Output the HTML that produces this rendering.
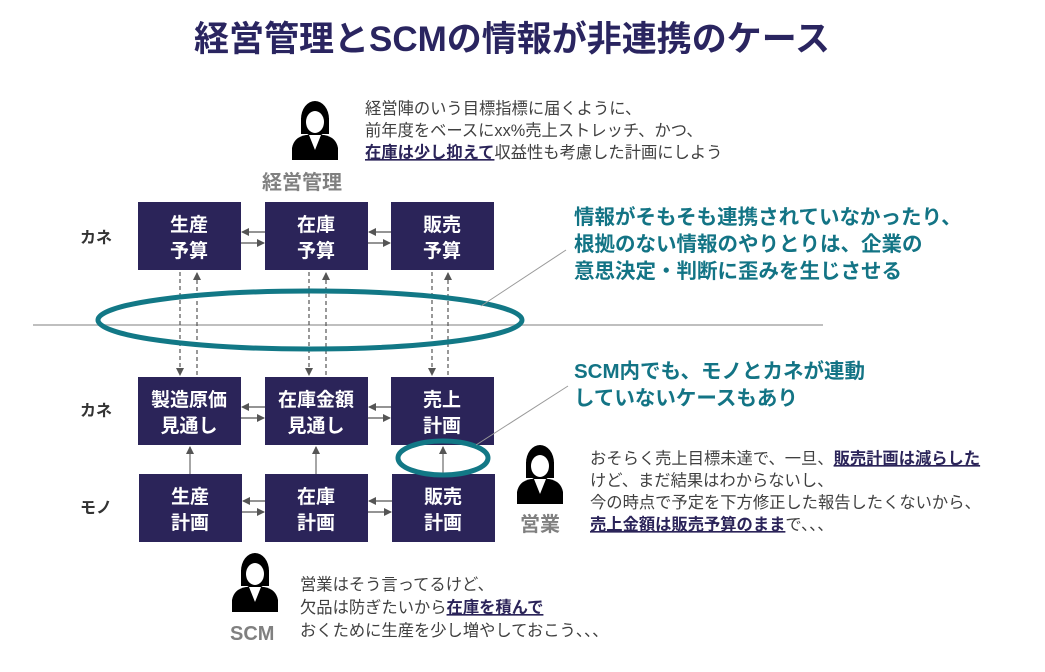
<!DOCTYPE html>
<html><head><meta charset="utf-8"><style>
body{margin:0;background:#fff;}
svg{display:block;font-family:"Liberation Sans","Noto Sans CJK JP",sans-serif;}
.bx{fill:#2b2459;}
.bt{fill:#fff;font-size:19px;font-weight:bold;text-anchor:middle;}
.gt{fill:#404040;font-size:16.3px;}
.ul{fill:#2b2459;font-weight:bold;text-decoration:underline;}
.tl{fill:#137485;font-size:20.5px;font-weight:bold;}
.lb{fill:#808080;font-size:20px;font-weight:bold;}
.side{fill:#333;font-size:16px;font-weight:bold;}
</style></head><body>
<svg width="1045" height="672" viewBox="0 0 1045 672">
<defs>
<marker id="ah" markerWidth="8" markerHeight="8" refX="7" refY="4" orient="auto" markerUnits="userSpaceOnUse"><path d="M0,0 L8,4 L0,8 Z" fill="#555"/></marker>
<g id="person">
<ellipse cx="25" cy="21" rx="14" ry="18" fill="#000"/>
<rect x="11" y="20" width="28" height="16" fill="#000"/>
<ellipse cx="25" cy="24" rx="9" ry="11" fill="#fff"/>
<path d="M2 62 L2 50 Q4 39 16 37 L34 37 Q46 39 48 50 L48 62 Z" fill="#000"/>
<path d="M19 37 L31 37 L25 52 Z" fill="#fff"/>
</g>
</defs>
<text x="512" y="51" text-anchor="middle" font-size="35" font-weight="bold" fill="#2a2560">経営管理とSCMの情報が非連携のケース</text>

<line x1="33" y1="325" x2="823" y2="325" stroke="#bfbfbf" stroke-width="2"/>

<rect class="bx" x="138" y="202" width="103" height="68"/>
<rect class="bx" x="265" y="202" width="103" height="68"/>
<rect class="bx" x="391" y="202" width="103" height="68"/>
<rect class="bx" x="138" y="377" width="103" height="68"/>
<rect class="bx" x="265" y="377" width="103" height="68"/>
<rect class="bx" x="391" y="377" width="103" height="68"/>
<rect class="bx" x="139" y="474" width="103" height="68"/>
<rect class="bx" x="265" y="474" width="103" height="68"/>
<rect class="bx" x="392" y="474" width="103" height="68"/>

<text class="bt" x="189" y="231">生産</text><text class="bt" x="189" y="257">予算</text>
<text class="bt" x="316" y="231">在庫</text><text class="bt" x="316" y="257">予算</text>
<text class="bt" x="442" y="231">販売</text><text class="bt" x="442" y="257">予算</text>
<text class="bt" x="189" y="406">製造原価</text><text class="bt" x="189" y="432">見通し</text>
<text class="bt" x="316" y="406">在庫金額</text><text class="bt" x="316" y="432">見通し</text>
<text class="bt" x="442" y="406">売上</text><text class="bt" x="442" y="432">計画</text>
<text class="bt" x="190" y="503">生産</text><text class="bt" x="190" y="529">計画</text>
<text class="bt" x="316" y="503">在庫</text><text class="bt" x="316" y="529">計画</text>
<text class="bt" x="443" y="503">販売</text><text class="bt" x="443" y="529">計画</text>

<g stroke="#555" stroke-width="1.3" marker-end="url(#ah)">
<line x1="265" y1="232" x2="242" y2="232"/><line x1="241" y1="243" x2="264" y2="243"/>
<line x1="391" y1="232" x2="369" y2="232"/><line x1="368" y1="243" x2="390" y2="243"/>
<line x1="265" y1="407" x2="242" y2="407"/><line x1="241" y1="418" x2="264" y2="418"/>
<line x1="391" y1="407" x2="369" y2="407"/><line x1="368" y1="418" x2="390" y2="418"/>
<line x1="265" y1="501" x2="243" y2="501"/><line x1="242" y1="512" x2="264" y2="512"/>
<line x1="392" y1="501" x2="369" y2="501"/><line x1="368" y1="512" x2="391" y2="512"/>
</g>
<g stroke="#555" stroke-width="1.2" stroke-dasharray="4,3" marker-end="url(#ah)">
<line x1="180" y1="272" x2="180" y2="375"/><line x1="197" y1="375" x2="197" y2="273"/>
<line x1="309" y1="272" x2="309" y2="375"/><line x1="326" y1="375" x2="326" y2="273"/>
<line x1="432" y1="272" x2="432" y2="375"/><line x1="448" y1="375" x2="448" y2="273"/>
</g>
<g stroke="#888" stroke-width="1.5" marker-end="url(#ah)">
<line x1="190" y1="474" x2="190" y2="447"/>
<line x1="316" y1="474" x2="316" y2="447"/>
<line x1="443" y1="474" x2="443" y2="447"/>
</g>

<ellipse cx="310" cy="320" rx="212" ry="29" fill="none" stroke="#127886" stroke-width="5"/>
<ellipse cx="443" cy="458" rx="45" ry="17" fill="none" stroke="#127886" stroke-width="5"/>
<line x1="481" y1="306" x2="566" y2="250" stroke="#999" stroke-width="1"/>
<line x1="476" y1="445" x2="568" y2="386" stroke="#999" stroke-width="1"/>

<text class="side" x="80" y="243">カネ</text>
<text class="side" x="80" y="416">カネ</text>
<text class="side" x="80" y="513">モノ</text>

<text class="tl" x="574" y="224">情報がそもそも連携されていなかったり、</text>
<text class="tl" x="574" y="251">根拠のない情報のやりとりは、企業の</text>
<text class="tl" x="574" y="278">意思決定・判断に歪みを生じさせる</text>
<text class="tl" x="574" y="378">SCM内でも、モノとカネが連動</text>
<text class="tl" x="574" y="405">していないケースもあり</text>

<use href="#person" x="290" y="98"/>
<text class="lb" x="262" y="189">経営管理</text>
<text class="gt" x="365" y="114">経営陣のいう目標指標に届くように、</text>
<text class="gt" x="365" y="136">前年度をベースにxx%売上ストレッチ、かつ、</text>
<text class="gt" x="365" y="158"><tspan class="ul">在庫は少し抑えて</tspan>収益性も考慮した計画にしよう</text>

<use href="#person" x="515" y="442"/>
<text class="lb" x="520" y="531">営業</text>
<text class="gt" x="590" y="464" font-size="16.8">おそらく売上目標未達で、一旦、<tspan class="ul">販売計画は減らした</tspan></text>
<text class="gt" x="590" y="486" font-size="16.8">けど、まだ結果はわからないし、</text>
<text class="gt" x="590" y="508" font-size="16.8">今の時点で予定を下方修正した報告したくないから、</text>
<text class="gt" x="590" y="530" font-size="16.8"><tspan class="ul">売上金額は販売予算のまま</tspan>で、、、</text>

<use href="#person" x="230" y="550"/>
<text class="lb" x="230" y="640">SCM</text>
<text class="gt" x="300" y="590">営業はそう言ってるけど、</text>
<text class="gt" x="300" y="613">欠品は防ぎたいから<tspan class="ul">在庫を積んで</tspan></text>
<text class="gt" x="300" y="636">おくために生産を少し増やしておこう、、、</text>
</svg>
</body></html>
